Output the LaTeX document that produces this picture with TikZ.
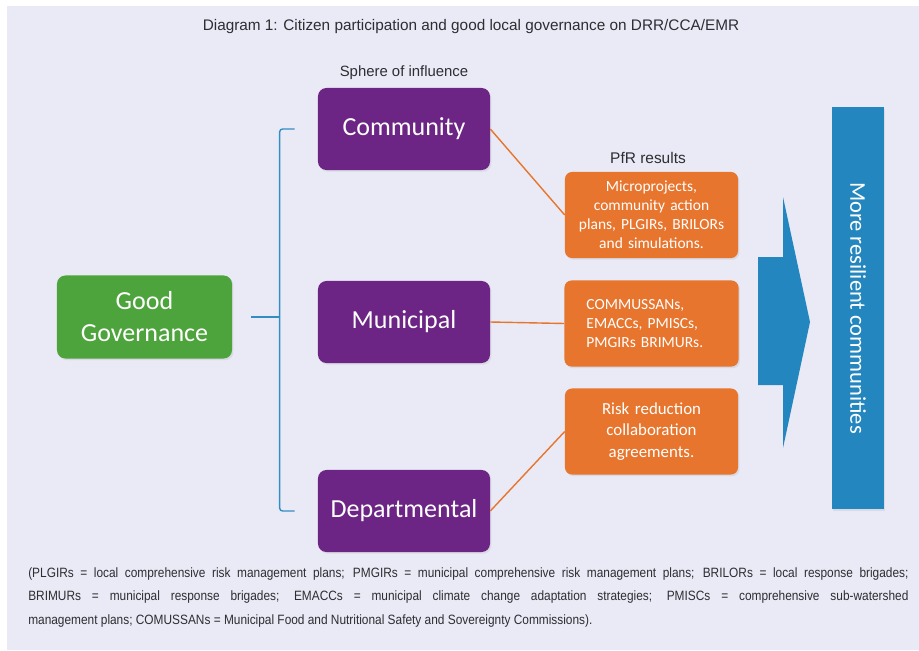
\documentclass[tikz,border=0pt]{standalone}
\usepackage{fontspec}
\setmainfont{Carlito}
\newfontfamily\labelfont{Liberation Sans}
\newfontfamily\notefont[FakeStretch=0.88]{Liberation Sans}
\usetikzlibrary{positioning,shadows}

\definecolor{panelBg}{RGB}{233,234,245}
\definecolor{spherePurple}{RGB}{108,37,132}
\definecolor{govGreen}{RGB}{78,164,60}
\definecolor{resOrange}{RGB}{231,117,46}
\definecolor{flowBlue}{RGB}{36,134,190}
\definecolor{braceBlue}{RGB}{52,140,196}
\definecolor{labelGray}{RGB}{45,45,50}

\begin{document}
\begin{tikzpicture}[
    x=0.025cm, y=-0.025cm,
    font=\labelfont,
    sphere/.style={
        rectangle, rounded corners=6pt, fill=spherePurple, text=white,
        minimum width=4.3cm, minimum height=2.05cm, inner sep=0pt,
        font=\rmfamily\fontsize{18.5}{22.8}\selectfont, align=center,
        drop shadow={opacity=0.15, shadow xshift=1pt, shadow yshift=-1.2pt}
    },
    gov/.style={
        sphere, fill=govGreen, minimum width=4.375cm, minimum height=2.075cm
    },
    result/.style={
        rectangle, rounded corners=5pt, fill=resOrange, text=white,
        minimum width=4.325cm, minimum height=2.15cm, text width=3.9cm,
        inner xsep=0.2cm, align=center,
        font=\rmfamily\fontsize{11}{13.5}\selectfont,
        drop shadow={opacity=0.15, shadow xshift=1pt, shadow yshift=-1.2pt}
    },
    outcome/.style={
        rectangle, fill=flowBlue, text=white, rotate=-90,
        minimum width=10.05cm, minimum height=1.3cm,
        font=\rmfamily\fontsize{16}{19}\selectfont,
        drop shadow={opacity=0.15, shadow xshift=1pt, shadow yshift=-1.2pt}
    },
    caption/.style={
        text=labelGray, inner sep=1pt
    },
    bracket/.style={
        draw=braceBlue, line width=1pt
    },
    resLink/.style={
        draw=resOrange, line width=1pt
    }
]

% Panel
\fill[white] (0,0) rectangle (919,650);
\fill[panelBg] (7,6) rectangle (919,650);
\useasboundingbox (0,0) rectangle (919,650);

% Headings
\node[caption, font=\labelfont\fontsize{10.9}{12}\selectfont] (title) at (471,27)
    {Diagram 1: Citizen participation and good local governance on DRR/CCA/EMR};
\node[caption, font=\labelfont\fontsize{10.6}{12}\selectfont] (sphereLbl) at (404,73) {Sphere of influence};
\node[caption, font=\labelfont\fontsize{11}{12}\selectfont] (resultLbl) at (648,158) {PfR results};

% Governance and spheres
\node[gov] (gov) at (144.5,317) {Good\\Governance};
\node[sphere] (comm) at (404,129) {Community};
\node[sphere] (muni) at (404,322) {Municipal};
\node[sphere] (dept) at (404,511) {Departmental};

% Bracket joining governance to the three spheres
\coordinate (brTop) at ([xshift=-0.95cm]comm.west);
\coordinate (brBot) at ([xshift=-0.95cm]dept.west);
\draw[bracket, rounded corners=2pt] ([xshift=0.375cm]brTop) -- (brTop) -- (brBot) -- ([xshift=0.375cm]brBot);
\draw[bracket] ([xshift=0.475cm]gov.east) -- (brTop |- gov.east);

% Results
\node[result] (res1) at (651.5,215) {Microprojects,\\community action\\plans, PLGIRs, BRILORs\\and simulations.};
\node[result, align=left, text width=3.25cm, inner xsep=0.55cm] (res2) at (651.5,323.5) {COMMUSSANs,\\EMACCs, PMISCs,\\PMGIRs BRIMURs.};
\node[result, font=\rmfamily\fontsize{12}{15}\selectfont] (res3) at (651.5,431.5) {Risk reduction\\collaboration\\agreements.};

\draw[resLink] (comm.east) -- (res1.west);
\draw[resLink] (muni.east) -- (res2.west);
\draw[resLink] (dept.east) -- (res3.west);

% Big arrow and outcome bar
\fill[flowBlue] (758,257) -- (783,257) -- (783,197) -- (810,322) -- (783,448) -- (783,385) -- (758,385) -- cycle;
\node[outcome] (outcome) at (858,308) {More resilient communities};

% Abbreviations
\node[anchor=north west, inner sep=0pt, text width=22cm, align=justify, text=labelGray,
      font=\notefont\fontsize{9.6}{17}\selectfont] (notes) at (28,567)
    {(PLGIRs = local comprehensive risk management plans; PMGIRs = municipal comprehensive risk management plans; BRILORs = local response brigades;\linebreak
     BRIMURs = municipal response brigades; EMACCs = municipal climate change adaptation strategies; PMISCs = comprehensive sub-watershed\linebreak
     management plans; COMUSSANs = Municipal Food and Nutritional Safety and Sovereignty Commissions).};

\end{tikzpicture}
\end{document}
